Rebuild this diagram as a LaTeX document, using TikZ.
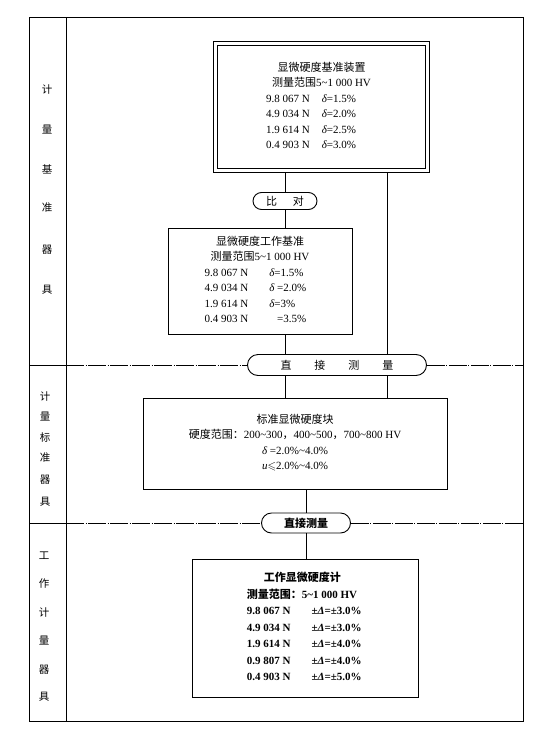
\documentclass[tikz,border=0pt]{standalone}
\usepackage{fontspec}
\usepackage{amssymb}
\setmainfont{Liberation Serif}
\newfontfamily\cjk{Noto Sans CJK SC}
\usepackage{tikz}
\usetikzlibrary{shapes.misc}

\newcommand\wave{\textasciitilde}

\tikzset{
  frameline/.style={line width=1pt},
  stdbox/.style={draw, line width=0.9pt, inner sep=0pt, font=\fontsize{11}{15.5}\selectfont},
  pill/.style={draw, rounded rectangle, line width=0.9pt, inner sep=0pt, font=\cjk\fontsize{11}{13}\selectfont},
  link/.style={line width=0.9pt},
  divline/.style={line width=0.8pt, dash pattern=on 18pt off 1.5pt on 1pt off 1.5pt},
  sidelabel/.style={font=\cjk\fontsize{10.5}{12}\selectfont},
}

\begin{document}
\begin{tikzpicture}[x=1pt,y=-1pt]

\useasboundingbox (0,0) rectangle (550,739) ;

% outer frame and the left column
\coordinate (tl) at (29,17) ;
\coordinate (br) at (523,721) ;
\coordinate (coltop) at (66,17) ;
\coordinate (colbot) at (66,721) ;
\coordinate (rail) at (387,0) ;

\draw[frameline] (tl) rectangle (br) ;
\draw[frameline] (coltop) -- (colbot) ;

\foreach \ch/\yy in {计/90, 量/130, 基/169, 准/208, 器/250, 具/290}
  \node[sidelabel] (top\yy) at (47,\yy) {\ch} ;
\foreach \ch/\yy in {计/397, 量/417, 标/437, 准/458, 器/480, 具/502}
  \node[sidelabel] (mid\yy) at (45,\yy) {\ch} ;
\foreach \ch/\yy in {工/556, 作/584, 计/613, 量/641, 器/670, 具/697}
  \node[sidelabel] (low\yy) at (44,\yy) {\ch} ;

% boxes
\node[stdbox, minimum width=216pt, minimum height=131pt] (etalon) at (321.5,107) {%
\begin{tabular}{@{}l@{\hspace{12pt}}l@{}}
\multicolumn{2}{c}{\cjk 显微硬度基准装置}\\
\multicolumn{2}{c}{{\cjk 测量范围}5\wave1 000 HV}\\
9.8 067 N & {\itshape δ}=1.5\%\\
4.9 034 N & {\itshape δ}=2.0\%\\
1.9 614 N & {\itshape δ}=2.5\%\\
0.4 903 N & {\itshape δ}=3.0\%\\
\end{tabular}} ;
\draw[line width=0.9pt] ([shift={(4.5pt,-4.5pt)}]etalon.north west) rectangle ([shift={(-4.5pt,4.5pt)}]etalon.south east) ;

\node[pill, minimum width=64pt, minimum height=17pt] (compare) at (285,201) {比\hspace{16pt}对} ;

\node[stdbox, minimum width=184pt, minimum height=106pt] (workstd) at (260,281) {%
\begin{tabular}{@{}l@{\hspace{21pt}}l@{}}
\multicolumn{2}{c}{\cjk 显微硬度工作基准}\\
\multicolumn{2}{c}{{\cjk 测量范围}5\wave1 000 HV}\\
9.8 067 N & {\itshape δ}=1.5\%\\
4.9 034 N & {\itshape δ} =2.0\%\\
1.9 614 N & {\itshape δ}=3\%\\
0.4 903 N & \phantom{\itshape δ} =3.5\%\\
\end{tabular}} ;

\node[pill, minimum width=179pt, minimum height=21pt] (direct1) at (337,365) {直\hspace{23pt}接\hspace{23pt}测\hspace{23pt}量} ;

\node[stdbox, minimum width=304pt, minimum height=91pt] (blockbox) at (295,443.5) {%
\begin{tabular}{@{}c@{}}
{\cjk 标准显微硬度块}\\
{\cjk 硬度范围：}200\wave300{\cjk ，}400\wave500{\cjk ，}700\wave800 HV\\
{\itshape δ} =2.0\%\wave4.0\%\\
{\itshape u}$\leqslant$2.0\%\wave4.0\%\\
\end{tabular}} ;

\node[pill, minimum width=89pt, minimum height=20pt, font=\cjk\bfseries\fontsize{11}{13}\selectfont] (direct2) at (306,523) {直接测量} ;

\node[stdbox, minimum width=226pt, minimum height=138pt, font=\fontsize{11}{16.5}\selectfont\bfseries] (gauge) at (305,628) {%
\begin{tabular}{@{}l@{\hspace{21pt}}l@{}}
\multicolumn{2}{@{}l}{\hspace*{17pt}\cjk 工作显微硬度计}\\
\multicolumn{2}{@{}l}{{\cjk 测量范围：}5\wave1 000 HV}\\
9.8 067 N & ±{\itshape Δ}=±3.0\%\\
4.9 034 N & ±{\itshape Δ}=±3.0\%\\
1.9 614 N & ±{\itshape Δ}=±4.0\%\\
0.9 807 N & ±{\itshape Δ}=±4.0\%\\
0.4 903 N & ±{\itshape Δ}=±5.0\%\\
\end{tabular}} ;

% connectors
\draw[link] (compare.north |- etalon.south) -- (compare.north) ;
\draw[link] (compare.south) -- (compare |- workstd.north) ;
\draw[link] (rail |- etalon.south) -- (rail |- direct1.north) ;
\draw[link] (compare |- workstd.south) -- (compare |- direct1.north) ;
\draw[link] (compare |- direct1.south) -- (compare |- blockbox.north) ;
\draw[link] (rail |- direct1.south) -- (rail |- blockbox.north) ;
\draw[link] (direct2 |- blockbox.south) -- (direct2.north) ;
\draw[link] (direct2.south) -- (direct2 |- gauge.north) ;

% section borders
\draw[frameline] (tl |- direct1) -- (coltop |- direct1) ;
\draw[divline] (coltop |- direct1) -- (direct1.west) ;
\draw[divline] (direct1.east) -- (br |- direct1) ;
\draw[frameline] (tl |- direct2) -- (coltop |- direct2) ;
\draw[divline] (coltop |- direct2) -- (direct2.west) ;
\draw[divline] (direct2.east) -- (br |- direct2) ;

\end{tikzpicture}
\end{document}
